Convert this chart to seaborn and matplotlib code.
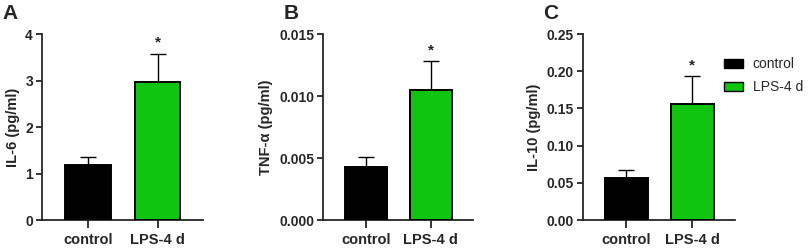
import matplotlib
matplotlib.use('Agg')
import matplotlib.pyplot as plt
import seaborn as sns
import pandas as pd
from matplotlib.patches import Patch

groups = ['control', 'LPS-4 d']
colors = ['#000000', '#0fc50f']

il6 = [1.19, 2.97]
il6_err = [0.17, 0.61]
tnf = [0.0043, 0.0105]
tnf_err = [0.00075, 0.0023]
il10 = [0.057, 0.156]
il10_err = [0.010, 0.037]

sns.set_style('ticks')
plt.rcParams['font.family'] = ['Liberation Sans', 'DejaVu Sans']
plt.rcParams['font.weight'] = 'bold'
plt.rcParams['axes.labelweight'] = 'bold'

fig = plt.figure(figsize=(8.09, 2.48), dpi=100)

paineis = [
    ('A', il6, il6_err, 'IL-6 (pg/ml)', [0, 1, 2, 3, 4], '{:.0f}', [0.0519, 0.1129, 0.199, 0.75]),
    ('B', tnf, tnf_err, 'TNF-α (pg/ml)', [0, 0.005, 0.010, 0.015], '{:.3f}', [0.3993, 0.1129, 0.185, 0.75]),
    ('C', il10, il10_err, 'IL-10 (pg/ml)', [0, 0.05, 0.10, 0.15, 0.20, 0.25], '{:.2f}', [0.7206, 0.1129, 0.188, 0.75]),
]

for letra, vals, errs, ylab, yticks, fmt, pos in paineis:
    ax = fig.add_axes(pos)
    df = pd.DataFrame({'grupo': groups, 'valor': vals})
    sns.barplot(data=df, x='grupo', y='valor', hue='grupo', palette=colors, saturation=1,
                width=0.65, edgecolor='black', linewidth=1.4, errorbar=None,
                legend=False, ax=ax, zorder=3)
    ax.errorbar([0, 1], vals, yerr=[[0, 0], errs], fmt='none', ecolor='black',
                elinewidth=1.0, capsize=6, capthick=1.0, zorder=2)
    ax.text(1, vals[1] + errs[1] + yticks[-1] * 0.02, '*', ha='center', va='bottom',
            fontsize=11, fontweight='bold')
    ax.set_xlim(-0.66, 1.65)
    ax.set_ylim(0, yticks[-1])
    ax.set_yticks(yticks)
    ax.set_yticklabels([fmt.format(t) for t in yticks])
    ax.set_xlabel('')
    ax.set_ylabel(ylab, fontsize=10.5, fontweight='bold', labelpad=4)
    ax.tick_params(axis='y', labelsize=10, width=1.3, length=4.5, pad=2)
    ax.tick_params(axis='x', labelsize=10.5, width=1.3, length=5.5, pad=4)
    for s in ['left', 'bottom']:
        ax.spines[s].set_linewidth(1.3)
    sns.despine(ax=ax)
    for lbl in ax.get_xticklabels() + ax.get_yticklabels():
        lbl.set_fontweight('bold')
    fig.text(pos[0] - 0.049, 0.985, letra, fontsize=15, fontweight='bold', va='top', ha='left')

handles = [Patch(facecolor=c, edgecolor='black', linewidth=1.0, label=g) for g, c in zip(groups, colors)]
fig.legend(handles=handles, loc='upper left', bbox_to_anchor=(0.895, 0.77), frameon=False,
           prop={'weight': 'normal', 'size': 10}, handlelength=1.35, handleheight=0.6,
           labelspacing=0.65, handletextpad=0.7, borderaxespad=0, borderpad=0)

fig.savefig('out.png', dpi=100)
